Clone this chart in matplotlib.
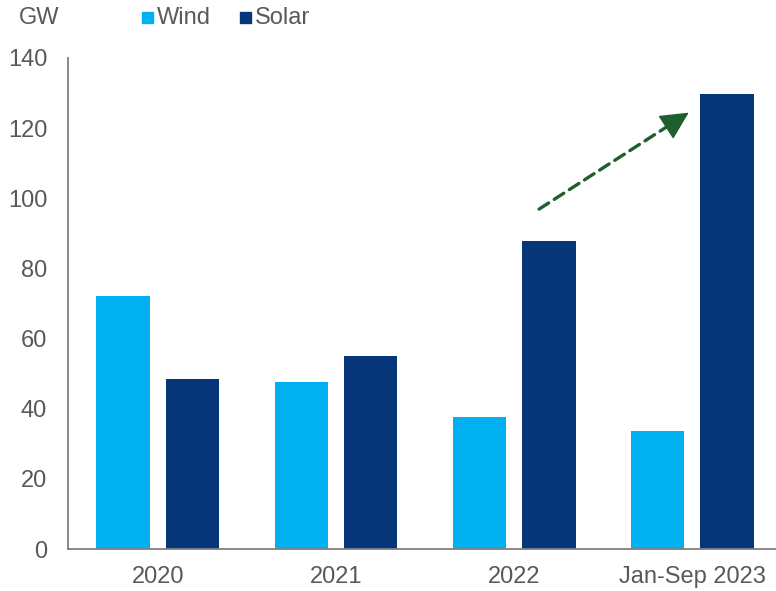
import matplotlib
matplotlib.use("Agg")
import matplotlib.pyplot as plt
from matplotlib.patches import Rectangle
import numpy as np

categories = ["2020", "2021", "2022", "Jan-Sep 2023"]
wind = [72.0, 47.7, 37.6, 33.6]
solar = [48.4, 55.1, 87.8, 129.6]
y_ticks = [0, 20, 40, 60, 80, 100, 120, 140]

WIND_C = "#00B0F0"
SOLAR_C = "#063579"
TEXT_C = "#595959"
AXIS_C = "#808080"
ARROW_C = "#1F5F2E"
FS = 17

plt.rcParams["font.family"] = ["Liberation Sans", "DejaVu Sans"]

fig = plt.figure(figsize=(7.76, 5.91), dpi=100)
ax = fig.add_axes([0.0876, 0.071, 0.9124, 0.831])

x = np.arange(len(categories))
w = 0.30
off = 0.195
ax.bar(x - off, wind, width=w, color=WIND_C)
ax.bar(x + off, solar, width=w, color=SOLAR_C)

ax.set_xlim(-0.505, 3.47)
ax.set_ylim(0, 140)
ax.set_yticks(y_ticks)
ax.set_xticks(x)
ax.set_xticklabels(categories)
ax.tick_params(axis="both", length=0, labelsize=FS, colors=TEXT_C)
ax.tick_params(axis="y", pad=15)
ax.tick_params(axis="x", pad=12)
for s in ["top", "right"]:
    ax.spines[s].set_visible(False)
for s in ["left", "bottom"]:
    ax.spines[s].set_color(AXIS_C)
    ax.spines[s].set_linewidth(1.3)

# dashed growth arrow
tail = (2.14, 96.9)
tip = (2.98, 124.4)
d = np.array(tip) - np.array(tail)
neck = (tail[0] + d[0] * 0.93, tail[1] + d[1] * 0.93)
ax.annotate("", xy=neck, xytext=tail,
            arrowprops=dict(arrowstyle="-", color=ARROW_C, lw=2.4,
                            linestyle=(0, (3.4, 2.0)), shrinkA=0, shrinkB=0))
ax.annotate("", xy=tip, xytext=(tail[0] + d[0] * 0.9, tail[1] + d[1] * 0.9),
            arrowprops=dict(arrowstyle="-|>,head_length=0.9,head_width=0.45",
                            color=ARROW_C, lw=1, mutation_scale=20,
                            shrinkA=0, shrinkB=0))

# unit label and legend
fig.text(19 / 776, 1 - 18 / 591, "GW", fontsize=FS, color=TEXT_C, va="center", ha="left")
for x0, label, c in [(142, "Wind", WIND_C), (240, "Solar", SOLAR_C)]:
    fig.patches.append(Rectangle((x0 / 776, 1 - 23 / 591), 11 / 776, 11 / 591,
                                 transform=fig.transFigure, color=c))
    fig.text((x0 + 15) / 776, 1 - 18 / 591, label, fontsize=FS, color=TEXT_C,
             va="center", ha="left")

fig.savefig("out.png", dpi=100)
